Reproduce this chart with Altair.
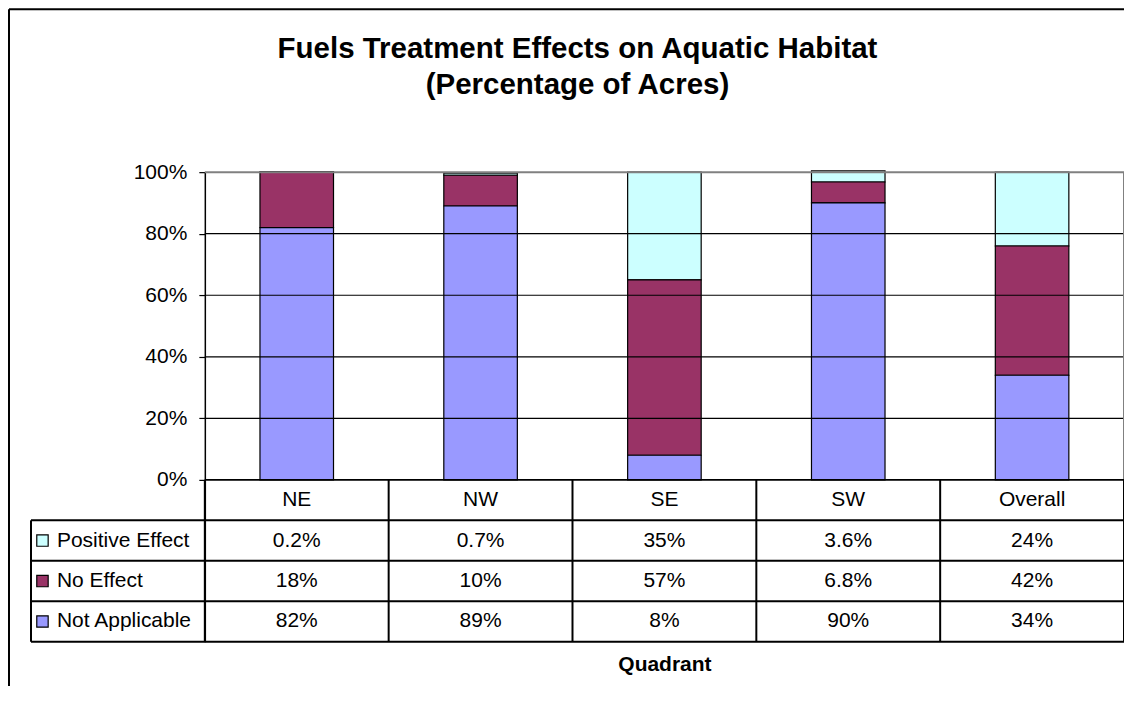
import altair as alt
import pandas as pd

# ---------------- data ----------------
quadrants = ["NE", "NW", "SE", "SW", "Overall"]
series = ["Positive Effect", "No Effect", "Not Applicable"]
positive_effect = [0.2, 0.7, 35, 3.6, 24]
no_effect = [18, 10, 57, 6.8, 42]
not_applicable = [82, 89, 8, 90, 34]
y_ticks = [0, 20, 40, 60, 80, 100]
colors = ["#CCFFFF", "#993366", "#9999FF"]

# ---------------- layout constants ----------------
COL_PX = 184          # width of one table column / category slot
LABEL_PX = 174        # width of the row-label column of the data table
PX_PER_PCT = 3.08
ROW = 13.15           # table row height in percentage units
N = len(quadrants)
XMIN = -LABEL_PX / COL_PX
YMIN = -4 * ROW
W = LABEL_PX + COL_PX * N
H = round((100 - YMIN) * PX_PER_PCT)
FONT = "Liberation Sans"
BAR_HALF = 0.2

xs = alt.Scale(domain=[XMIN, N], nice=False, zero=False)
ys = alt.Scale(domain=[YMIN, 100], nice=False, zero=False)
cs = alt.Scale(domain=series, range=colors)

x_axis = alt.Axis(
    title="Quadrant", labels=False, ticks=False, domain=False, grid=False,
    titleX=LABEL_PX + COL_PX * N / 2, titleY=29, titleBaseline="alphabetic",
    titleFont=FONT, titleFontSize=21, titleFontWeight="bold",
    titleColor="black", titleAlign="center")
y_axis = alt.Axis(
    values=y_ticks, labelExpr="datum.value + '%'", grid=False,
    offset=-LABEL_PX, tickSize=6, labelPadding=12, title=None,
    labelFont=FONT, labelFontSize=21, labelColor="black",
    domainColor="black", domainWidth=1.5, tickColor="black", tickWidth=1.2)


def X(field):
    return alt.X(field, scale=xs, axis=x_axis, title="Quadrant")


def Y(field):
    return alt.Y(field, scale=ys, axis=y_axis, title=None)


# ---------------- tables built from the arrays ----------------
vals = {"Positive Effect": positive_effect, "No Effect": no_effect,
        "Not Applicable": not_applicable}
stack_order = {"Not Applicable": 0, "No Effect": 1, "Positive Effect": 2}
row_of = {"Positive Effect": 1, "No Effect": 2, "Not Applicable": 3}

bar_rows = []
for i, q in enumerate(quadrants):
    for s in series:
        bar_rows.append({"quadrant": q, "series": s, "value": vals[s][i],
                         "ord": stack_order[s],
                         "xa": i + 0.5 - BAR_HALF, "xb": i + 0.5 + BAR_HALF})
bars_df = pd.DataFrame(bar_rows)

text_rows = []
for i, q in enumerate(quadrants):
    text_rows.append({"label": q, "x": i + 0.5, "y": -0.5 * ROW})
    for s in series:
        text_rows.append({"label": f"{vals[s][i]:g}%", "x": i + 0.5,
                          "y": -(row_of[s] + 0.5) * ROW})
text_df = pd.DataFrame(text_rows)

rowlab_df = pd.DataFrame([{"series": s, "x": XMIN, "y": -(row_of[s] + 0.5) * ROW}
                          for s in series])

grid_df = pd.DataFrame({"y": [t for t in y_ticks if 0 < t < 100], "x": 0, "x2": N})

hlines_df = pd.DataFrame({"y": [-k * ROW for k in range(1, 5)], "x": XMIN, "x2": N})
vlines_df = pd.DataFrame({"x": list(range(0, N + 1)), "y": YMIN, "y2": 0})
vlab_df = pd.DataFrame({"x": [XMIN], "y": [YMIN], "y2": [-ROW]})
zero_df = pd.DataFrame({"x": [0], "x2": [N], "y": [0]})
border_top_df = pd.DataFrame({"x": [0], "x2": [N], "y": [100]})
border_right_df = pd.DataFrame({"x": [N], "y": [0], "y2": [100]})

# ---------------- layers ----------------
bars = alt.Chart(bars_df).transform_stack(
    stack="value", groupby=["quadrant"], as_=["y0", "y1"],
    sort=[alt.SortField("ord", order="ascending")]
).mark_bar(stroke="black", strokeWidth=1.2).encode(
    x=X("xa:Q"), x2="xb:Q",
    y=Y("y0:Q"), y2="y1:Q",
    color=alt.Color("series:N", scale=cs, legend=None),
)

grid = alt.Chart(grid_df).mark_rule(color="black", strokeWidth=1.2).encode(
    x=X("x:Q"), x2="x2:Q", y=Y("y:Q"))

border_top = alt.Chart(border_top_df).mark_rule(color="#808080", strokeWidth=2).encode(
    x=X("x:Q"), x2="x2:Q", y=Y("y:Q"))
border_right = alt.Chart(border_right_df).mark_rule(color="#808080", strokeWidth=2).encode(
    x=X("x:Q"), y=Y("y:Q"), y2="y2:Q")

zero_line = alt.Chart(zero_df).mark_rule(color="black", strokeWidth=2).encode(
    x=X("x:Q"), x2="x2:Q", y=Y("y:Q"))

hlines = alt.Chart(hlines_df).mark_rule(color="black", strokeWidth=2).encode(
    x=X("x:Q"), x2="x2:Q", y=Y("y:Q"))
vlines = alt.Chart(vlines_df).mark_rule(color="black", strokeWidth=2).encode(
    x=X("x:Q"), y=Y("y:Q"), y2="y2:Q")
vlab = alt.Chart(vlab_df).mark_rule(color="black", strokeWidth=2).encode(
    x=X("x:Q"), y=Y("y:Q"), y2="y2:Q")

cells = alt.Chart(text_df).mark_text(font=FONT, fontSize=21, color="black",
                                     baseline="middle", align="center").encode(
    x=X("x:Q"), y=Y("y:Q"), text="label:N")

row_text = alt.Chart(rowlab_df).mark_text(font=FONT, fontSize=21, color="black",
                                          baseline="middle", align="left", dx=26).encode(
    x=X("x:Q"), y=Y("y:Q"), text="series:N")

row_keys = alt.Chart(rowlab_df).mark_square(size=130, xOffset=11.5, stroke="black",
                                            strokeWidth=1.2, opacity=1,
                                            filled=True).encode(
    x=X("x:Q"), y=Y("y:Q"),
    color=alt.Color("series:N", scale=cs, legend=None))

frame_top = alt.Chart(pd.DataFrame({"k": [0]})).mark_rule(color="black", strokeWidth=2).encode(
    x=alt.value(-22), x2=alt.value(W + 40), y=alt.value(-163))
frame_left = alt.Chart(pd.DataFrame({"k": [0]})).mark_rule(color="black", strokeWidth=2).encode(
    x=alt.value(-22), y=alt.value(-163), y2=alt.value(H + 80))

chart = alt.layer(
    bars, grid, border_top, border_right, hlines, vlines, vlab, zero_line,
    cells, row_text, row_keys, frame_top, frame_left
).properties(
    width=W, height=H,
    title=alt.TitleParams(
        ["Fuels Treatment Effects on Aquatic Habitat", "(Percentage of Acres)"],
        font=FONT, fontSize=29.5, fontWeight="bold", color="black",
        anchor="middle", lineHeight=36, offset=-92),
    padding={"left": 23, "top": 164, "right": 0, "bottom": 44},
    autosize=alt.AutoSizeParams(type="none"),
).configure_view(stroke=None)

chart.save("out.html", embed_options={"renderer": "svg", "actions": False})
